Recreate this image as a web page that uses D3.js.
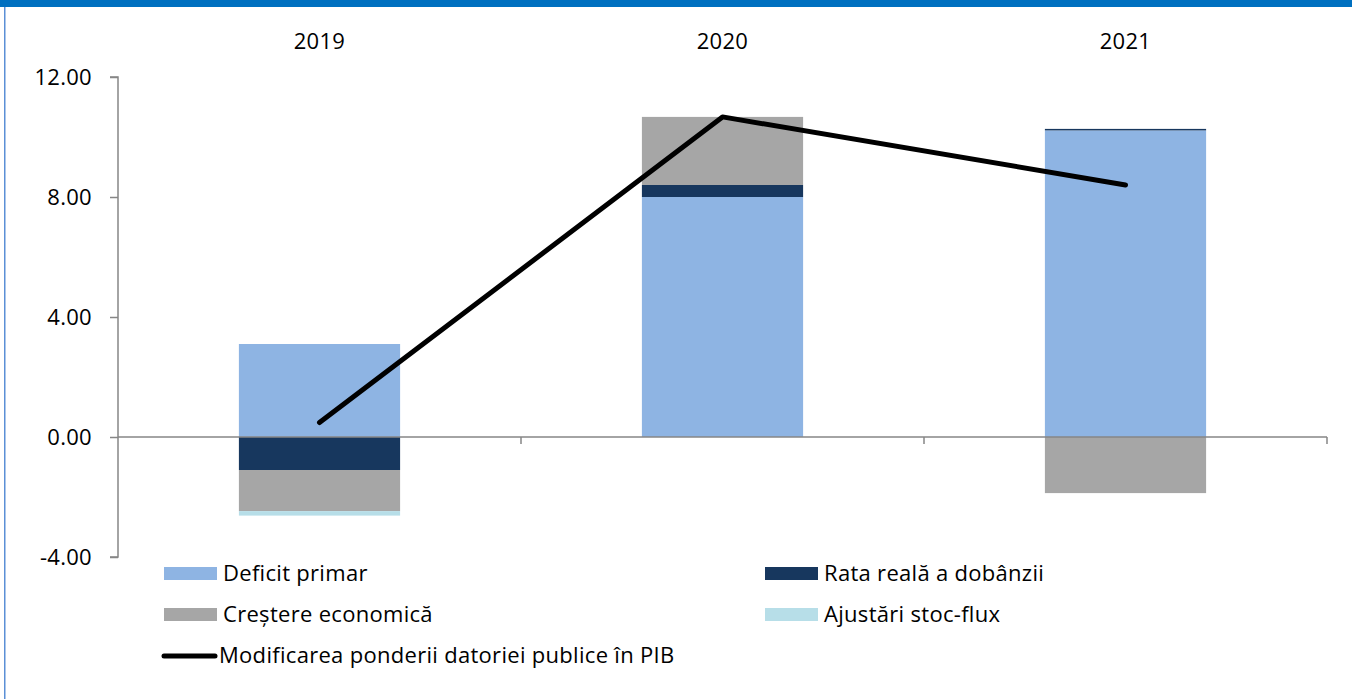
<!DOCTYPE html>
<html>
<head>
<meta charset="utf-8">
<script src="https://cdn.jsdelivr.net/npm/d3@7"></script>
<style>
  html, body { margin: 0; padding: 0; background: #fff; }
  svg { display: block; }
  text { font-family: "Open Sans", "Noto Sans", sans-serif; fill: #000; letter-spacing: 0.3px; }
</style>
</head>
<body>
<svg id="chart" width="1352" height="699"></svg>
<script>
// Contributions to the change in public debt ratio (% of GDP)
const years = ["2019", "2020", "2021"];
const deficitPrimar = [3.10, 8.00, 10.22];
const rataReala = [-1.10, 0.40, 0.05];
const crestereEconomica = [-1.37, 2.27, -1.87];
const ajustariStocFlux = [-0.15, 0.00, 0.00];
const modificareaPonderii = [0.48, 10.67, 8.40];
const yTicks = [-4, 0, 4, 8, 12];

const seriesNames = ["Deficit primar", "Rata reală a dobânzii", "Creștere economică", "Ajustări stoc-flux"];
const seriesValues = [deficitPrimar, rataReala, crestereEconomica, ajustariStocFlux];
const seriesColors = ["#8EB4E3", "#17375E", "#A6A6A6", "#B7DEE8"];
const lineName = "Modificarea ponderii datoriei publice în PIB";

const table = years.map((yr, i) => {
  const row = { year: yr };
  seriesNames.forEach((n, k) => { row[n] = seriesValues[k][i]; });
  return row;
});

const svg = d3.select("#chart");
const FONT = "'Open Sans', 'Noto Sans', sans-serif";
const FS = 22;

// frame: blue band on top, thin blue rule on the left
svg.append("rect").attr("x", 0).attr("y", 0).attr("width", 1352).attr("height", 7).attr("fill", "#0070C0");
svg.append("rect").attr("x", 4).attr("y", 7).attr("width", 1.5).attr("height", 692).attr("fill", "#5B8FD6");

const plotLeft = 118, plotRight = 1327, plotTop = 77, plotBottom = 557;

const x = d3.scaleBand().domain(years).range([plotLeft, plotRight]).padding(0);
const y = d3.scaleLinear().domain([-4, 12]).range([plotBottom, plotTop]);
const barW = x.bandwidth() * 0.4;
const cx = d => x(d) + x.bandwidth() / 2;

const stack = d3.stack().keys(seriesNames).offset(d3.stackOffsetDiverging);
const stacked = stack(table);

svg.append("g").selectAll("g")
  .data(stacked)
  .join("g")
  .attr("fill", (d, i) => seriesColors[i])
  .selectAll("rect")
  .data(d => d)
  .join("rect")
  .attr("x", d => cx(d.data.year) - barW / 2)
  .attr("width", barW)
  .attr("y", d => y(Math.max(d[0], d[1])))
  .attr("height", d => Math.abs(y(d[0]) - y(d[1])));

// y axis
const fmt = v => d3.format(".2f")(v).replace("−", "-");
const yAxis = svg.append("g")
  .attr("transform", `translate(${plotLeft},0)`)
  .call(d3.axisLeft(y).tickValues(yTicks).tickFormat(fmt).tickSize(8).tickPadding(18));
yAxis.select(".domain").attr("stroke", "#868686").attr("stroke-width", 1.5).attr("d", `M-8,${plotTop}H0V${plotBottom}H-8`);
yAxis.selectAll(".tick line").attr("stroke", "#868686").attr("stroke-width", 1.5);
yAxis.selectAll(".tick text").attr("font-size", FS).attr("fill", "#000").attr("dy", "0.36em");
yAxis.selectAll("text").style("font-family", FONT);

// zero line with category separators
const x0 = svg.append("g");
x0.append("line").attr("x1", plotLeft).attr("x2", plotRight).attr("y1", y(0)).attr("y2", y(0))
  .attr("stroke", "#868686").attr("stroke-width", 1.5);
x0.selectAll("line.sep").data(years).join("line").attr("class", "sep")
  .attr("x1", d => x(d) + x.bandwidth()).attr("x2", d => x(d) + x.bandwidth())
  .attr("y1", y(0)).attr("y2", y(0) + 7)
  .attr("stroke", "#868686").attr("stroke-width", 1.5);

// category labels on top
svg.append("g").selectAll("text").data(years).join("text")
  .attr("x", d => cx(d)).attr("y", 49)
  .attr("text-anchor", "middle").attr("font-size", FS)
  .text(d => d);

// debt ratio change line
const line = d3.line().x((d, i) => cx(years[i])).y(d => y(d));
svg.append("path").datum(modificareaPonderii)
  .attr("d", line)
  .attr("fill", "none").attr("stroke", "#000").attr("stroke-width", 5)
  .attr("stroke-linecap", "round").attr("stroke-linejoin", "round");

// legend
const legend = svg.append("g");
const legendItems = [
  { name: seriesNames[0], color: seriesColors[0], x: 164, y: 573 },
  { name: seriesNames[1], color: seriesColors[1], x: 765, y: 573 },
  { name: seriesNames[2], color: seriesColors[2], x: 164, y: 614 },
  { name: seriesNames[3], color: seriesColors[3], x: 765, y: 614 }
];
legendItems.forEach(it => {
  legend.append("rect").attr("x", it.x).attr("y", it.y - 6).attr("width", 53).attr("height", 13).attr("fill", it.color);
  legend.append("text").attr("x", it.x + 59).attr("y", it.y + 8).attr("font-size", FS).text(it.name);
});
legend.append("line").attr("x1", 164).attr("x2", 215).attr("y1", 656).attr("y2", 656)
  .attr("stroke", "#000").attr("stroke-width", 5).attr("stroke-linecap", "round");
legend.append("text").attr("x", 219).attr("y", 663).attr("font-size", FS).text(lineName);
</script>
</body>
</html>
